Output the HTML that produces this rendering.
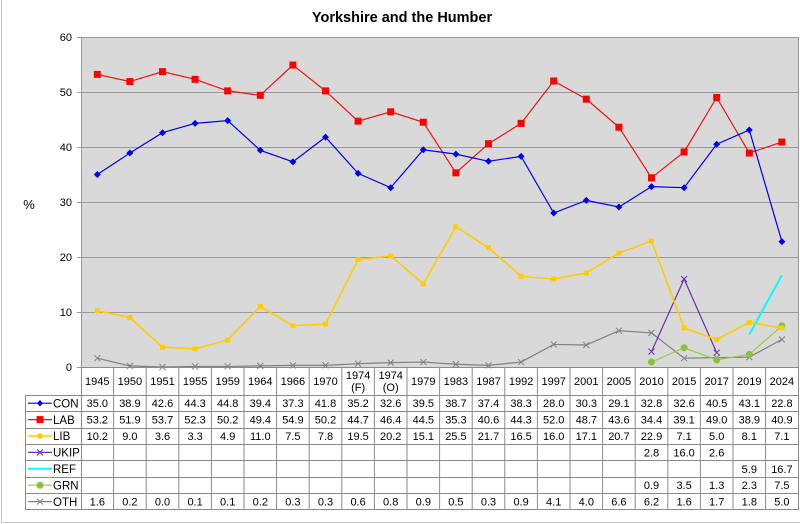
<!DOCTYPE html>
<html><head><meta charset="utf-8"><style>
html,body{margin:0;padding:0;background:#fff;}
svg{display:block;}
text{font-family:"Liberation Sans",Arial,sans-serif;fill:#000;}
</style></head><body>
<svg width="800" height="524" viewBox="0 0 800 524" xmlns="http://www.w3.org/2000/svg">
<rect x="0" y="0" width="800" height="524" fill="#fff"/>
<path d="M1.5,0 V522.5 H800" fill="none" stroke="#c8c8c8" stroke-width="1"/>
<text x="402" y="22" font-size="14.5" font-weight="bold" text-anchor="middle">Yorkshire and the Humber</text>
<!-- plot area -->
<rect x="81" y="37" width="718" height="330" fill="#d9d9d9"/>
<g stroke="#9a9a9a" stroke-width="1">
<line x1="77" y1="37.5" x2="799" y2="37.5"/>
<line x1="77" y1="92.5" x2="799" y2="92.5"/>
<line x1="77" y1="147.5" x2="799" y2="147.5"/>
<line x1="77" y1="202.5" x2="799" y2="202.5"/>
<line x1="77" y1="257.5" x2="799" y2="257.5"/>
<line x1="77" y1="312.5" x2="799" y2="312.5"/>
<line x1="77" y1="367.5" x2="799" y2="367.5"/>
<line x1="81.5" y1="37" x2="81.5" y2="367"/>
<line x1="798.5" y1="37" x2="798.5" y2="367"/>
</g>
<g font-size="11" text-anchor="end" fill="#333">
<text x="72" y="41">60</text>
<text x="72" y="96">50</text>
<text x="72" y="151">40</text>
<text x="72" y="206">30</text>
<text x="72" y="261">20</text>
<text x="72" y="316">10</text>
<text x="72" y="371">0</text>
</g>
<text x="29" y="209" font-size="13" text-anchor="middle">%</text>

<!-- series -->
<polyline fill="none" stroke="#808080" stroke-width="1.2" points="97.3,358.2 129.9,365.9 162.5,367 195.1,366.45 227.7,366.45 260.3,365.9 292.9,365.35 325.5,365.35 358.1,363.7 390.7,362.6 423.3,362.05 455.9,364.25 488.5,365.35 521.1,362.05 553.7,344.45 586.3,345 618.9,330.7 651.5,332.9 684.1,358.2 716.7,357.65 749.3,357.1 781.9,339.5"/>
<g stroke="#808080" stroke-width="1" fill="none">
<path d="M94.3,355.2l6,6m0,-6l-6,6 M126.9,362.9l6,6m0,-6l-6,6 M159.5,364l6,6m0,-6l-6,6 M192.1,363.45l6,6m0,-6l-6,6 M224.7,363.45l6,6m0,-6l-6,6 M257.3,362.9l6,6m0,-6l-6,6 M289.9,362.35l6,6m0,-6l-6,6 M322.5,362.35l6,6m0,-6l-6,6 M355.1,360.7l6,6m0,-6l-6,6 M387.7,359.6l6,6m0,-6l-6,6 M420.3,359.05l6,6m0,-6l-6,6 M452.9,361.25l6,6m0,-6l-6,6 M485.5,362.35l6,6m0,-6l-6,6 M518.1,359.05l6,6m0,-6l-6,6 M550.7,341.45l6,6m0,-6l-6,6 M583.3,342l6,6m0,-6l-6,6 M615.9,327.7l6,6m0,-6l-6,6 M648.5,329.9l6,6m0,-6l-6,6 M681.1,355.2l6,6m0,-6l-6,6 M713.7,354.65l6,6m0,-6l-6,6 M746.3,354.1l6,6m0,-6l-6,6 M778.9,336.5l6,6m0,-6l-6,6"/>
</g>

<polyline fill="none" stroke="#99cc44" stroke-width="1.2" points="651.5,362.05 684.1,347.75 716.7,359.85 749.3,354.35 781.9,325.75"/>
<g fill="#88c040">
<circle cx="651.5" cy="362.05" r="3.5"/><circle cx="684.1" cy="347.75" r="3.5"/><circle cx="716.7" cy="359.85" r="3.5"/><circle cx="749.3" cy="354.35" r="3.5"/><circle cx="781.9" cy="325.75" r="3.5"/>
</g>

<polyline fill="none" stroke="#00ffff" stroke-width="2" points="749.3,334.55 781.9,275.15"/>

<polyline fill="none" stroke="#6633aa" stroke-width="1.2" points="651.5,351.6 684.1,279 716.7,352.7"/>
<g stroke="#6633aa" stroke-width="1" fill="none">
<path d="M648.5,348.6l6,6m0,-6l-6,6 M681.1,276l6,6m0,-6l-6,6 M713.7,349.7l6,6m0,-6l-6,6"/>
</g>

<polyline fill="none" stroke="#ffcc00" stroke-width="1.6" points="97.3,310.9 129.9,317.5 162.5,347.2 195.1,348.85 227.7,340.05 260.3,306.5 292.9,325.75 325.5,324.1 358.1,259.75 390.7,255.9 423.3,283.95 455.9,226.75 488.5,247.65 521.1,276.25 553.7,279 586.3,272.95 618.9,253.15 651.5,241.05 684.1,327.95 716.7,339.5 749.3,322.45 781.9,327.95"/>
<g fill="#ffcc00">
<rect x="94.8" y="308.4" width="5" height="5"/><rect x="127.4" y="315" width="5" height="5"/><rect x="160" y="344.7" width="5" height="5"/><rect x="192.6" y="346.35" width="5" height="5"/><rect x="225.2" y="337.55" width="5" height="5"/><rect x="257.8" y="304" width="5" height="5"/><rect x="290.4" y="323.25" width="5" height="5"/><rect x="323" y="321.6" width="5" height="5"/><rect x="355.6" y="257.25" width="5" height="5"/><rect x="388.2" y="253.4" width="5" height="5"/><rect x="420.8" y="281.45" width="5" height="5"/><rect x="453.4" y="224.25" width="5" height="5"/><rect x="486" y="245.15" width="5" height="5"/><rect x="518.6" y="273.75" width="5" height="5"/><rect x="551.2" y="276.5" width="5" height="5"/><rect x="583.8" y="270.45" width="5" height="5"/><rect x="616.4" y="250.65" width="5" height="5"/><rect x="649" y="238.55" width="5" height="5"/><rect x="681.6" y="325.45" width="5" height="5"/><rect x="714.2" y="337" width="5" height="5"/><rect x="746.8" y="319.95" width="5" height="5"/><rect x="779.4" y="325.45" width="5" height="5"/>
</g>

<polyline fill="none" stroke="#ee1111" stroke-width="1.2" points="97.3,74.4 129.9,81.55 162.5,71.65 195.1,79.35 227.7,90.9 260.3,95.3 292.9,65.05 325.5,90.9 358.1,121.15 390.7,111.8 423.3,122.25 455.9,172.85 488.5,143.7 521.1,123.35 553.7,81 586.3,99.15 618.9,127.2 651.5,177.8 684.1,151.95 716.7,97.5 749.3,153.05 781.9,142.05"/>
<g fill="#ff0000">
<rect x="93.8" y="70.9" width="7" height="7"/><rect x="126.4" y="78.05" width="7" height="7"/><rect x="159" y="68.15" width="7" height="7"/><rect x="191.6" y="75.85" width="7" height="7"/><rect x="224.2" y="87.4" width="7" height="7"/><rect x="256.8" y="91.8" width="7" height="7"/><rect x="289.4" y="61.55" width="7" height="7"/><rect x="322" y="87.4" width="7" height="7"/><rect x="354.6" y="117.65" width="7" height="7"/><rect x="387.2" y="108.3" width="7" height="7"/><rect x="419.8" y="118.75" width="7" height="7"/><rect x="452.4" y="169.35" width="7" height="7"/><rect x="485" y="140.2" width="7" height="7"/><rect x="517.6" y="119.85" width="7" height="7"/><rect x="550.2" y="77.5" width="7" height="7"/><rect x="582.8" y="95.65" width="7" height="7"/><rect x="615.4" y="123.7" width="7" height="7"/><rect x="648" y="174.3" width="7" height="7"/><rect x="680.6" y="148.45" width="7" height="7"/><rect x="713.2" y="94" width="7" height="7"/><rect x="745.8" y="149.55" width="7" height="7"/><rect x="778.4" y="138.55" width="7" height="7"/>
</g>

<polyline fill="none" stroke="#0000ee" stroke-width="1.2" points="97.3,174.5 129.9,153.05 162.5,132.7 195.1,123.35 227.7,120.6 260.3,150.3 292.9,161.85 325.5,137.1 358.1,173.4 390.7,187.7 423.3,149.75 455.9,154.15 488.5,161.3 521.1,156.35 553.7,213 586.3,200.35 618.9,206.95 651.5,186.6 684.1,187.7 716.7,144.25 749.3,129.95 781.9,241.6"/>
<g fill="#0000ee">
<path d="M97.3,171l3.5,3.5l-3.5,3.5l-3.5,-3.5z M129.9,149.55l3.5,3.5l-3.5,3.5l-3.5,-3.5z M162.5,129.2l3.5,3.5l-3.5,3.5l-3.5,-3.5z M195.1,119.85l3.5,3.5l-3.5,3.5l-3.5,-3.5z M227.7,117.1l3.5,3.5l-3.5,3.5l-3.5,-3.5z M260.3,146.8l3.5,3.5l-3.5,3.5l-3.5,-3.5z M292.9,158.35l3.5,3.5l-3.5,3.5l-3.5,-3.5z M325.5,133.6l3.5,3.5l-3.5,3.5l-3.5,-3.5z M358.1,169.9l3.5,3.5l-3.5,3.5l-3.5,-3.5z M390.7,184.2l3.5,3.5l-3.5,3.5l-3.5,-3.5z M423.3,146.25l3.5,3.5l-3.5,3.5l-3.5,-3.5z M455.9,150.65l3.5,3.5l-3.5,3.5l-3.5,-3.5z M488.5,157.8l3.5,3.5l-3.5,3.5l-3.5,-3.5z M521.1,152.85l3.5,3.5l-3.5,3.5l-3.5,-3.5z M553.7,209.5l3.5,3.5l-3.5,3.5l-3.5,-3.5z M586.3,196.85l3.5,3.5l-3.5,3.5l-3.5,-3.5z M618.9,203.45l3.5,3.5l-3.5,3.5l-3.5,-3.5z M651.5,183.1l3.5,3.5l-3.5,3.5l-3.5,-3.5z M684.1,184.2l3.5,3.5l-3.5,3.5l-3.5,-3.5z M716.7,140.75l3.5,3.5l-3.5,3.5l-3.5,-3.5z M749.3,126.45l3.5,3.5l-3.5,3.5l-3.5,-3.5z M781.9,238.1l3.5,3.5l-3.5,3.5l-3.5,-3.5z"/>
</g>

<!-- table grid -->
<g stroke="#8a8a8a" stroke-width="1" fill="none">
<line x1="81" y1="367.5" x2="799" y2="367.5"/>
<line x1="25" y1="395.5" x2="799" y2="395.5"/>
<line x1="25" y1="411.5" x2="799" y2="411.5"/>
<line x1="25" y1="428.5" x2="799" y2="428.5"/>
<line x1="25" y1="444.5" x2="799" y2="444.5"/>
<line x1="25" y1="460.5" x2="799" y2="460.5"/>
<line x1="25" y1="477.5" x2="799" y2="477.5"/>
<line x1="25" y1="493.5" x2="799" y2="493.5"/>
<line x1="25" y1="509.5" x2="799" y2="509.5"/>
<line x1="25.5" y1="395" x2="25.5" y2="510"/>
<line x1="81.5" y1="367" x2="81.5" y2="510"/>
<line x1="113.6" y1="367" x2="113.6" y2="510"/>
<line x1="146.2" y1="367" x2="146.2" y2="510"/>
<line x1="178.8" y1="367" x2="178.8" y2="510"/>
<line x1="211.4" y1="367" x2="211.4" y2="510"/>
<line x1="244" y1="367" x2="244" y2="510"/>
<line x1="276.6" y1="367" x2="276.6" y2="510"/>
<line x1="309.2" y1="367" x2="309.2" y2="510"/>
<line x1="341.8" y1="367" x2="341.8" y2="510"/>
<line x1="374.4" y1="367" x2="374.4" y2="510"/>
<line x1="407" y1="367" x2="407" y2="510"/>
<line x1="439.6" y1="367" x2="439.6" y2="510"/>
<line x1="472.2" y1="367" x2="472.2" y2="510"/>
<line x1="504.8" y1="367" x2="504.8" y2="510"/>
<line x1="537.4" y1="367" x2="537.4" y2="510"/>
<line x1="570" y1="367" x2="570" y2="510"/>
<line x1="602.6" y1="367" x2="602.6" y2="510"/>
<line x1="635.2" y1="367" x2="635.2" y2="510"/>
<line x1="667.8" y1="367" x2="667.8" y2="510"/>
<line x1="700.4" y1="367" x2="700.4" y2="510"/>
<line x1="733" y1="367" x2="733" y2="510"/>
<line x1="765.6" y1="367" x2="765.6" y2="510"/>
<line x1="798.5" y1="367" x2="798.5" y2="510"/>
</g>

<!-- header years -->
<g font-size="11" text-anchor="middle">
<text x="97.3" y="385">1945</text><text x="129.9" y="385">1950</text><text x="162.5" y="385">1951</text><text x="195.1" y="385">1955</text><text x="227.7" y="385">1959</text><text x="260.3" y="385">1964</text><text x="292.9" y="385">1966</text><text x="325.5" y="385">1970</text>
<text x="358.1" y="379">1974</text><text x="358.1" y="391">(F)</text>
<text x="390.7" y="379">1974</text><text x="390.7" y="391">(O)</text>
<text x="423.3" y="385">1979</text><text x="455.9" y="385">1983</text><text x="488.5" y="385">1987</text><text x="521.1" y="385">1992</text><text x="553.7" y="385">1997</text><text x="586.3" y="385">2001</text><text x="618.9" y="385">2005</text><text x="651.5" y="385">2010</text><text x="684.1" y="385">2015</text><text x="716.7" y="385">2017</text><text x="749.3" y="385">2019</text><text x="781.9" y="385">2024</text>
</g>

<!-- data rows -->
<g font-size="11" text-anchor="middle">
<text x="97.3" y="407.2">35.0</text><text x="129.9" y="407.2">38.9</text><text x="162.5" y="407.2">42.6</text><text x="195.1" y="407.2">44.3</text><text x="227.7" y="407.2">44.8</text><text x="260.3" y="407.2">39.4</text><text x="292.9" y="407.2">37.3</text><text x="325.5" y="407.2">41.8</text><text x="358.1" y="407.2">35.2</text><text x="390.7" y="407.2">32.6</text><text x="423.3" y="407.2">39.5</text><text x="455.9" y="407.2">38.7</text><text x="488.5" y="407.2">37.4</text><text x="521.1" y="407.2">38.3</text><text x="553.7" y="407.2">28.0</text><text x="586.3" y="407.2">30.3</text><text x="618.9" y="407.2">29.1</text><text x="651.5" y="407.2">32.8</text><text x="684.1" y="407.2">32.6</text><text x="716.7" y="407.2">40.5</text><text x="749.3" y="407.2">43.1</text><text x="781.9" y="407.2">22.8</text>
<text x="97.3" y="423.6">53.2</text><text x="129.9" y="423.6">51.9</text><text x="162.5" y="423.6">53.7</text><text x="195.1" y="423.6">52.3</text><text x="227.7" y="423.6">50.2</text><text x="260.3" y="423.6">49.4</text><text x="292.9" y="423.6">54.9</text><text x="325.5" y="423.6">50.2</text><text x="358.1" y="423.6">44.7</text><text x="390.7" y="423.6">46.4</text><text x="423.3" y="423.6">44.5</text><text x="455.9" y="423.6">35.3</text><text x="488.5" y="423.6">40.6</text><text x="521.1" y="423.6">44.3</text><text x="553.7" y="423.6">52.0</text><text x="586.3" y="423.6">48.7</text><text x="618.9" y="423.6">43.6</text><text x="651.5" y="423.6">34.4</text><text x="684.1" y="423.6">39.1</text><text x="716.7" y="423.6">49.0</text><text x="749.3" y="423.6">38.9</text><text x="781.9" y="423.6">40.9</text>
<text x="97.3" y="440">10.2</text><text x="129.9" y="440">9.0</text><text x="162.5" y="440">3.6</text><text x="195.1" y="440">3.3</text><text x="227.7" y="440">4.9</text><text x="260.3" y="440">11.0</text><text x="292.9" y="440">7.5</text><text x="325.5" y="440">7.8</text><text x="358.1" y="440">19.5</text><text x="390.7" y="440">20.2</text><text x="423.3" y="440">15.1</text><text x="455.9" y="440">25.5</text><text x="488.5" y="440">21.7</text><text x="521.1" y="440">16.5</text><text x="553.7" y="440">16.0</text><text x="586.3" y="440">17.1</text><text x="618.9" y="440">20.7</text><text x="651.5" y="440">22.9</text><text x="684.1" y="440">7.1</text><text x="716.7" y="440">5.0</text><text x="749.3" y="440">8.1</text><text x="781.9" y="440">7.1</text>
<text x="651.5" y="456.4">2.8</text><text x="684.1" y="456.4">16.0</text><text x="716.7" y="456.4">2.6</text>
<text x="749.3" y="472.8">5.9</text><text x="781.9" y="472.8">16.7</text>
<text x="651.5" y="489.2">0.9</text><text x="684.1" y="489.2">3.5</text><text x="716.7" y="489.2">1.3</text><text x="749.3" y="489.2">2.3</text><text x="781.9" y="489.2">7.5</text>
<text x="97.3" y="505.6">1.6</text><text x="129.9" y="505.6">0.2</text><text x="162.5" y="505.6">0.0</text><text x="195.1" y="505.6">0.1</text><text x="227.7" y="505.6">0.1</text><text x="260.3" y="505.6">0.2</text><text x="292.9" y="505.6">0.3</text><text x="325.5" y="505.6">0.3</text><text x="358.1" y="505.6">0.6</text><text x="390.7" y="505.6">0.8</text><text x="423.3" y="505.6">0.9</text><text x="455.9" y="505.6">0.5</text><text x="488.5" y="505.6">0.3</text><text x="521.1" y="505.6">0.9</text><text x="553.7" y="505.6">4.1</text><text x="586.3" y="505.6">4.0</text><text x="618.9" y="505.6">6.6</text><text x="651.5" y="505.6">6.2</text><text x="684.1" y="505.6">1.6</text><text x="716.7" y="505.6">1.7</text><text x="749.3" y="505.6">1.8</text><text x="781.9" y="505.6">5.0</text>
</g>

<!-- legend -->
<g stroke-width="1.2">
<line x1="28" y1="403.2" x2="52" y2="403.2" stroke="#0000ee"/>
<line x1="28" y1="419.6" x2="52" y2="419.6" stroke="#ee1111"/>
<line x1="28" y1="436" x2="52" y2="436" stroke="#ffcc00" stroke-width="1.6"/>
<line x1="28" y1="452.4" x2="52" y2="452.4" stroke="#6633aa"/>
<line x1="28" y1="468.8" x2="52" y2="468.8" stroke="#00ffff" stroke-width="2"/>
<line x1="28" y1="485.2" x2="52" y2="485.2" stroke="#99cc44"/>
<line x1="28" y1="501.6" x2="52" y2="501.6" stroke="#808080"/>
</g>
<path d="M40,400l3,3.2l-3,3.2l-3,-3.2z" fill="#0000ee"/>
<rect x="36.5" y="416.1" width="7" height="7" fill="#ff0000"/>
<rect x="37.5" y="433.5" width="5" height="5" fill="#ffcc00"/>
<path d="M37,449.4l6,6m0,-6l-6,6" stroke="#6633aa" stroke-width="1" fill="none"/>
<circle cx="40" cy="485.2" r="3.5" fill="#88c040"/>
<path d="M37,498.6l6,6m0,-6l-6,6" stroke="#808080" stroke-width="1" fill="none"/>
<g font-size="11.5">
<text x="53" y="407.4">CON</text>
<text x="53" y="423.8">LAB</text>
<text x="53" y="440.2">LIB</text>
<text x="53" y="456.6">UKIP</text>
<text x="53" y="473">REF</text>
<text x="53" y="489.4">GRN</text>
<text x="53" y="505.8">OTH</text>
</g>
</svg>
</body></html>
